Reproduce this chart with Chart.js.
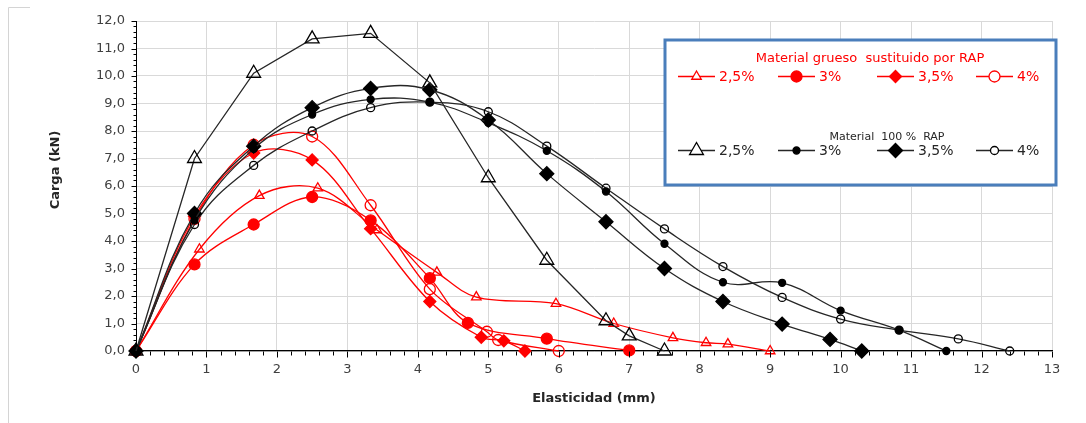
<!DOCTYPE html>
<html>
<head>
<meta charset="utf-8">
<script src="https://cdn.jsdelivr.net/npm/chart.js@4.4.1/dist/chart.umd.min.js"></script>
<style>
  html, body { margin: 0; padding: 0; background: #fff; }
  #wrap { position: relative; width: 1086px; height: 423px; }
</style>
</head>
<body>
<div id="wrap"><canvas id="chart" width="1086" height="423"></canvas></div>
<script>
// x ticks / y ticks
const xTicks = [0, 1, 2, 3, 4, 5, 6, 7, 8, 9, 10, 11, 12, 13];
const yTicks = [0, 1, 2, 3, 4, 5, 6, 7, 8, 9, 10, 11, 12];

// Material 100 % RAP (black)
const blk25X = [0, 0.83, 1.67, 2.5, 3.33, 4.17, 5.0, 5.83, 6.67, 7.0, 7.5];
const blk25Y = [0, 7.0, 10.1, 11.35, 11.55, 9.75, 6.3, 3.3, 1.1, 0.55, 0];
const blk30X = [0, 0.83, 1.67, 2.5, 3.33, 4.17, 5.0, 5.83, 6.67, 7.5, 8.33, 9.17, 10.0, 10.83, 11.5];
const blk30Y = [0, 4.75, 7.35, 8.6, 9.15, 9.05, 8.3, 7.28, 5.8, 3.9, 2.5, 2.48, 1.47, 0.76, 0];
const blk35X = [0, 0.83, 1.67, 2.5, 3.33, 4.17, 5.0, 5.83, 6.67, 7.5, 8.33, 9.17, 9.85, 10.3];
const blk35Y = [0, 5.0, 7.45, 8.85, 9.55, 9.5, 8.4, 6.45, 4.7, 3.0, 1.8, 0.98, 0.42, 0];
const blk40X = [0, 0.83, 1.67, 2.5, 3.33, 4.17, 5.0, 5.83, 6.67, 7.5, 8.33, 9.17, 10.0, 10.83, 11.67, 12.4];
const blk40Y = [0, 4.6, 6.75, 8.0, 8.85, 9.05, 8.7, 7.45, 5.92, 4.44, 3.07, 1.95, 1.16, 0.76, 0.44, 0];

// Material grueso sustituido por RAP (red)
const red25X = [0, 0.9, 1.75, 2.58, 3.42, 4.27, 4.83, 5.96, 6.78, 7.62, 8.09, 8.4, 9.0];
const red25Y = [0, 3.7, 5.65, 5.92, 4.4, 2.86, 1.96, 1.72, 1.0, 0.48, 0.3, 0.25, 0];
const red30X = [0, 0.83, 1.67, 2.5, 3.33, 4.17, 4.71, 5.83, 7.0];
const red30Y = [0, 3.15, 4.6, 5.6, 4.75, 2.65, 1.02, 0.45, 0.02];
const red35X = [0, 0.83, 1.67, 2.5, 3.33, 4.17, 4.9, 5.22, 5.52];
const red35Y = [0, 4.9, 7.2, 6.95, 4.45, 1.8, 0.5, 0.37, 0];
const red40X = [0, 0.83, 1.67, 2.5, 3.33, 4.17, 4.98, 5.14, 6.0];
const red40Y = [0, 4.8, 7.5, 7.8, 5.3, 2.25, 0.7, 0.4, 0];

const RED = "#ff0000";
const BLK = "#000000";
const NONE = "rgba(255,255,255,0)";

function pts(xs, ys) {
  return xs.map((x, i) => ({ x: x, y: ys[i] }));
}

function series(label, xs, ys, color, style, radius, fill, tension) {
  return {
    label: label,
    data: pts(xs, ys),
    showLine: true,
    borderColor: color === BLK ? "#262626" : color,
    borderWidth: 1.3,
    tension: tension,
    pointStyle: style,
    pointRadius: radius,
    pointBorderColor: color,
    pointBackgroundColor: fill,
    pointBorderWidth: 1.3,
    clip: false,
  };
}

const datasets = [
  series("2,5%", blk25X, blk25Y, BLK, "triangle", 8, NONE, 0),
  series("3%", blk30X, blk30Y, BLK, "circle", 3.5, BLK, 0.4),
  series("3,5%", blk35X, blk35Y, BLK, "rectRot", 7, BLK, 0.4),
  series("4%", blk40X, blk40Y, BLK, "circle", 4, NONE, 0.4),
  series("2,5%", red25X, red25Y, RED, "triangle", 5.5, NONE, 0.35),
  series("3%", red30X, red30Y, RED, "circle", 5.5, RED, 0.35),
  series("3,5%", red35X, red35Y, RED, "rectRot", 6, RED, 0.35),
  series("4%", red40X, red40Y, RED, "circle", 5.5, NONE, 0.35),
];

function marker(ctx, style, r, color, fill, x, y) {
  ctx.save();
  ctx.strokeStyle = color;
  ctx.fillStyle = fill;
  ctx.lineWidth = 1.3;
  ctx.beginPath();
  if (style === "triangle") {
    ctx.moveTo(x, y - r);
    ctx.lineTo(x + r * 0.866, y + r * 0.5);
    ctx.lineTo(x - r * 0.866, y + r * 0.5);
    ctx.closePath();
  } else if (style === "rectRot") {
    ctx.moveTo(x, y - r);
    ctx.lineTo(x + r, y);
    ctx.lineTo(x, y + r);
    ctx.lineTo(x - r, y);
    ctx.closePath();
  } else {
    ctx.arc(x, y, r, 0, Math.PI * 2);
  }
  ctx.fill();
  ctx.stroke();
  ctx.restore();
}

const extras = {
  id: "extras",
  beforeDraw(chart) {
    const ctx = chart.ctx;
    ctx.save();
    ctx.strokeStyle = "#d4d4d4";
    ctx.lineWidth = 1;
    ctx.beginPath();
    ctx.moveTo(8.5, 7.5);
    ctx.lineTo(8.5, 423);
    ctx.moveTo(8.5, 7.5);
    ctx.lineTo(30, 7.5);
    ctx.stroke();
    ctx.restore();
  },
  afterDraw(chart) {
    const ctx = chart.ctx;
    const xs = chart.scales.x;
    const ys = chart.scales.y;
    const x0 = Math.round(xs.left) + 0.5;
    const y0 = Math.round(ys.bottom) + 0.5;

    // minor / major ticks
    ctx.save();
    ctx.strokeStyle = "#000";
    ctx.lineWidth = 1;
    ctx.beginPath();
    for (let i = 0; i <= 60; i++) {
      const py = Math.round(ys.getPixelForValue(i / 5)) + 0.5;
      const len = i % 5 === 0 ? 5 : 3;
      ctx.moveTo(x0 - len, py);
      ctx.lineTo(x0, py);
    }
    for (let i = 0; i <= 65; i++) {
      const px = Math.round(xs.getPixelForValue(i / 5)) + 0.5;
      const len = i % 5 === 0 ? 6 : 4;
      ctx.moveTo(px, y0);
      ctx.lineTo(px, y0 + len);
    }
    ctx.stroke();
    ctx.restore();

    // y title
    ctx.save();
    ctx.translate(56, 170);
    ctx.rotate(-Math.PI / 2);
    ctx.font = "bold 13px 'DejaVu Sans'";
    ctx.fillStyle = "#262626";
    ctx.textAlign = "center";
    ctx.textBaseline = "middle";
    ctx.fillText("Carga (kN)", 0, 0);
    ctx.restore();

    // legend box
    ctx.save();
    ctx.fillStyle = "#fff";
    ctx.fillRect(665, 40, 391, 145);
    ctx.strokeStyle = "#4a7ebb";
    ctx.lineWidth = 3;
    ctx.strokeRect(665, 40, 391, 145);

    ctx.textBaseline = "middle";
    ctx.textAlign = "center";
    ctx.fillStyle = RED;
    ctx.font = "13px 'DejaVu Sans'";
    ctx.fillText("Material grueso  sustituido por RAP", 870, 59);
    ctx.fillStyle = "#262626";
    ctx.font = "11px 'DejaVu Sans'";
    ctx.fillText("Material  100 %  RAP", 887, 137);

    const cols = [678, 778, 877, 976];
    const rows = [
      { y: 76, color: RED, line: RED, sets: datasets.slice(4) },
      { y: 150, color: BLK, line: "#262626", sets: datasets.slice(0, 4) },
    ];
    ctx.textAlign = "left";
    ctx.font = "14px 'DejaVu Sans'";
    rows.forEach((row) => {
      row.sets.forEach((ds, i) => {
        const lx = cols[i];
        ctx.strokeStyle = row.line;
        ctx.lineWidth = 1.3;
        ctx.beginPath();
        ctx.moveTo(lx, row.y + 0.5);
        ctx.lineTo(lx + 37, row.y + 0.5);
        ctx.stroke();
        marker(ctx, ds.pointStyle, ds.pointRadius, ds.pointBorderColor,
          ds.pointBackgroundColor === NONE ? "#fff" : ds.pointBackgroundColor,
          lx + 18.5, row.y + 0.5);
        ctx.fillStyle = row.color === RED ? RED : "#262626";
        ctx.fillText(ds.label, lx + 41, row.y + 1);
      });
    });
    ctx.restore();
  },
};

new Chart(document.getElementById("chart"), {
  type: "scatter",
  data: { datasets: datasets },
  plugins: [extras],
  options: {
    responsive: false,
    animation: false,
    events: [],
    layout: { padding: { left: 0, right: 34, top: 21, bottom: 0 } },
    plugins: { legend: { display: false }, tooltip: { enabled: false } },
    scales: {
      x: {
        type: "linear",
        min: xTicks[0],
        max: xTicks[xTicks.length - 1],
        afterBuildTicks(scale) {
          scale.ticks = xTicks.map((v) => ({ value: v }));
        },
        afterFit(scale) {
          scale.height = 72;
        },
        grid: { color: "#d9d9d9", drawTicks: false },
        border: { color: "#000", width: 1.2 },
        ticks: {
          padding: 11,
          color: "#404040",
          font: { family: "'DejaVu Sans'", size: 13 },
          callback: (v) => String(v),
        },
        title: {
          display: true,
          text: "Elasticidad (mm)",
          color: "#262626",
          font: { family: "'DejaVu Sans'", size: 13, weight: "bold" },
          padding: { top: 0, bottom: 17 },
        },
      },
      y: {
        type: "linear",
        min: yTicks[0],
        max: yTicks[yTicks.length - 1],
        afterBuildTicks(scale) {
          scale.ticks = yTicks.map((v) => ({ value: v }));
        },
        afterFit(scale) {
          scale.width = 136;
        },
        grid: { color: "#d9d9d9", drawTicks: false },
        border: { color: "#000", width: 1 },
        ticks: {
          padding: 11,
          color: "#404040",
          font: { family: "'DejaVu Sans'", size: 13 },
          callback: (v) => v.toFixed(1).replace(".", ","),
        },
      },
    },
  },
});
</script>
</body>
</html>
